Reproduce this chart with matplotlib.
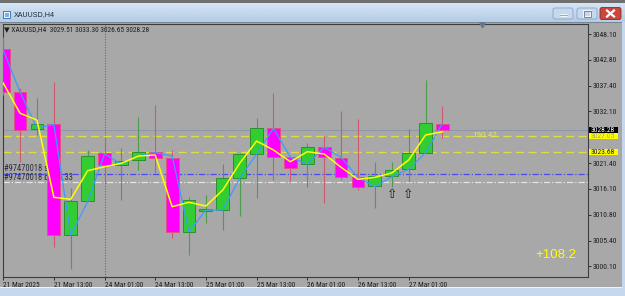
import numpy as np
import matplotlib
matplotlib.use('Agg')
import matplotlib.pyplot as plt
from matplotlib import font_manager
from matplotlib.font_manager import FontProperties
from matplotlib.patches import Rectangle, FancyBboxPatch
from matplotlib.colors import LinearSegmentedColormap
from matplotlib.transforms import blended_transform_factory as blend

W, H = 625, 296   # output size in pixels

# ---- XAUUSD H4 bars ----
opens  = [3045.00, 3036.12, 3028.41, 3029.57, 3006.51, 3013.66, 3023.45, 3021.03, 3022.07,
          3023.66, 3022.54, 3007.13, 3011.63, 3011.84, 3018.29, 3023.31, 3028.74, 3022.62,
          3021.24, 3024.69, 3022.54, 3018.49, 3016.70, 3018.76, 3020.15, 3023.58, 3029.51]
highs  = [3047.48, 3036.94, 3034.88, 3038.12, 3016.28, 3024.13, 3026.55, 3024.55, 3030.89,
          3033.43, 3024.13, 3014.48, 3014.84, 3021.24, 3023.45, 3030.68, 3035.97, 3022.70,
          3025.52, 3027.03, 3032.19, 3030.48, 3021.72, 3021.72, 3028.41, 3038.60, 3033.30]
lows   = [3035.50, 3021.72, 3027.23, 3004.15, 2999.48, 3013.50, 3017.25, 3013.80, 3020.00,
          3019.32, 3005.89, 3002.44, 3009.11, 3007.60, 3010.43, 3014.15, 3017.93, 3017.79,
          3016.43, 3013.12, 3017.93, 3015.87, 3012.21, 3016.55, 3017.58, 3023.45, 3026.65]
closes = [3036.12, 3028.27, 3029.57, 3006.57, 3013.66, 3022.89, 3021.03, 3021.92, 3023.66,
          3022.54, 3007.13, 3013.80, 3011.84, 3018.29, 3023.31, 3028.62, 3022.75, 3020.35,
          3024.69, 3022.62, 3018.49, 3016.43, 3018.76, 3020.00, 3023.58, 3029.65, 3028.28]

# indicator lines
ma_yellow = [3037.98, 3031.72, 3030.33, 3014.36, 3013.95, 3019.86, 3020.68, 3021.39, 3022.89,
             3023.10, 3012.42, 3013.33, 3012.56, 3015.87, 3021.39, 3025.99, 3024.13, 3021.72,
             3023.78, 3023.31, 3020.56, 3018.08, 3018.49, 3019.38, 3022.07, 3027.23, 3027.91]
ma_blue   = [3044.79, 3036.12, 3028.62, 3029.44, 3006.57, 3013.45, 3023.31, 3021.24, 3022.89,
             3023.58, 3022.89, 3007.25, 3011.74, 3011.74, 3018.29, 3023.31, 3028.62, 3022.62,
             3021.24, 3024.69, 3022.62, 3018.49, 3016.55, 3018.62, 3020.15, 3023.58, 3029.65]

time_ticks  = [0, 3, 6, 9, 12, 15, 18, 21, 24]
time_labels = ['21 Mar 2025', '21 Mar 13:00', '24 Mar 01:00', '24 Mar 13:00', '25 Mar 01:00',
               '25 Mar 13:00', '26 Mar 01:00', '26 Mar 13:00', '27 Mar 01:00']
price_ticks = [3048.10, 3042.80, 3037.40, 3032.10, 3021.40, 3016.10, 3010.80, 3005.40, 3000.10]

bid_price  = 3028.28
level_hi   = 3027.05
level_lo   = 3023.68
order_sl   = 3019.17
order_buy  = 3017.46
order_id   = '#97470018'
level_text = '190.42'
profit     = '+108.2'
separator_bar = 6
arrow_bars  = [23, 24]
arrow_price = 3014.9

# ---- fonts: MT4 uses a narrow UI font, pick the narrowest one we have ----
names = {f.name for f in font_manager.fontManager.ttflist}
NARROW = 'Liberation Sans'
for cand in ('Liberation Sans Narrow', 'Roboto Condensed', 'Archivo Narrow'):
    if cand in names:
        NARROW = cand
        break
plt.rcParams['font.family'] = [NARROW, 'DejaVu Sans']

CHART_BG = '#a8a8a8'
fig = plt.figure(figsize=(W / 100, H / 100), dpi=100, facecolor=CHART_BG)
renderer = fig.canvas.get_renderer()


def fit_size(s, family, target_px):
    # font size that makes string s about target_px wide
    t = fig.text(0, 0, s, fontsize=10, family=family)
    w = t.get_window_extent(renderer=renderer).width
    t.remove()
    return 10 * target_px / w


fs_price = fit_size('3048.10', NARROW, 24.5)
fs_time = fit_size('21 Mar 13:00', NARROW, 38)
fs_head = fit_size('XAUUSD,H4', NARROW, 34)
fs_order = fit_size('#97470018 s', NARROW, 44)
fs_level = fit_size('190.42', 'Liberation Sans', 25)
fs_profit = fit_size('+108.2', 'Liberation Sans', 41)
fs_title = fit_size('XAUUSD,H4', 'Liberation Sans', 41)

# ---- window chrome, drawn in pixel coordinates ----
bg = fig.add_axes([0, 0, 1, 1], zorder=-1)
bg.set_facecolor(CHART_BG)
grad = np.linspace(0, 1, 40).reshape(-1, 1)
tcmap = LinearSegmentedColormap.from_list('tb', ['#d6e5f5', '#b4cbe6'])
bg.imshow(grad, cmap=tcmap, aspect='auto', extent=[0, W, 22, 3])
bg.add_patch(Rectangle((0, 0), W, 3, fc='#6f6f6f', ec='none'))
bg.add_patch(Rectangle((0, 21.7), W, 1.4, fc='#7a8592', ec='none'))
bg.add_patch(Rectangle((622, 22), 3, H - 22, fc='#c4d7ec', ec='none'))
bg.add_patch(Rectangle((0, 287), W, 9, fc='#c6d8ed', ec='none'))
bg.add_patch(Rectangle((0, 286.6), 622, 1.2, fc='#eef4fb', ec='none'))
# icon + title
bg.add_patch(Rectangle((2.5, 10.5), 7.5, 7.5, fc='#eef4fb', ec='#3f78b8', lw=0.7))
bg.add_patch(Rectangle((4.5, 13), 4, 3.5, fc='#7fb0e0', ec='none'))
bg.text(14, 14.5, 'XAUUSD,H4', fontsize=fs_title, family='Liberation Sans', color='#1b2838',
        ha='left', va='center')
# buttons
for bx in (553, 577):
    bg.add_patch(FancyBboxPatch((bx, 8), 20, 11, boxstyle='round,pad=0,rounding_size=2',
                                fc='#c6d8ee', ec='#8aa3c2', lw=0.6))
bg.plot([559.5, 566.5], [15.3, 15.3], color='#ffffff', lw=1.8, solid_capstyle='butt')
bg.plot([559.5, 566.5], [15.3, 15.3], color='#53647a', lw=0.4)
bg.add_patch(Rectangle((583.5, 10.5), 7, 6, fc='none', ec='#f4f8fc', lw=1.3))
bg.add_patch(Rectangle((583.5, 10.5), 7, 6, fc='none', ec='#4a5b70', lw=0.5))
bg.add_patch(FancyBboxPatch((600, 7.5), 21, 12, boxstyle='round,pad=0,rounding_size=2',
                            fc='#c9473b', ec='#8a2b22', lw=0.6))
bg.plot([607, 614], [10.5, 16.5], color='white', lw=1.6)
bg.plot([607, 614], [16.5, 10.5], color='white', lw=1.6)
bg.set_xlim(0, W)
bg.set_ylim(H, 0)
bg.axis('off')

# ---- main chart ----
left, right, top, bottom = 3, 587.5, 24, 276.7
ax = fig.add_axes([left / W, 1 - bottom / H, (right - left) / W, (bottom - top) / H])
ax.set_facecolor(CHART_BG)
ax.set_xlim(-0.01, (right - left) / 16.9)
ax.set_ylim(2997.96, 3050.17)

n = len(opens)
x = np.arange(n)
for i in range(n):
    o, h, l, c = opens[i], highs[i], lows[i], closes[i]
    bull = c >= o
    ax.vlines(i, l, h, color='#4f9c4f' if bull else '#cf5a70', lw=0.8, zorder=3)
    ax.bar(i, max(abs(c - o), 0.3), bottom=min(o, c), width=0.76,
           color='#32cd32' if bull else '#ff00ff',
           edgecolor='#2e8f2e' if bull else '#e0508a', lw=0.7, zorder=4)

ax.plot(x, ma_blue, color='#3d9bff', lw=0.9, zorder=5)
ax.plot(x, ma_yellow, color='#ffff00', lw=1.1, zorder=6)

# horizontal objects (behind the bars)
ax.axhline(bid_price, color='#8d99a6', lw=0.8, zorder=1)
for lv in (level_hi, level_lo):
    ax.axhline(lv, color='#dede40', lw=1.0, ls=(0, (5.8, 3.2)), zorder=1.5)
ax.axhline(order_sl, color='#4b4bea', lw=0.9, ls=(0, (5, 1.6, 1, 1.6)), zorder=1.5)
ax.axhline(order_buy, color='#e4e4e4', lw=0.9, ls=(0, (5, 1.6, 1, 1.6)), zorder=1.5)
ax.axvline(separator_bar, color='#686868', lw=0.8, ls=(0, (1, 1.4)), zorder=1)

ty = blend(ax.transAxes, ax.transData)
ax.text(0.002, order_sl + 0.15, order_id + ' sl', transform=ty, fontsize=fs_order,
        color='#2e2e3c', ha='left', va='bottom', zorder=2)
ax.text(0.002, order_buy + 0.15, order_id + ' buy 0.33', transform=ty, fontsize=fs_order,
        color='#2e2e3c', ha='left', va='bottom', zorder=2)
ax.text(0.824, level_hi, level_text, transform=ty, fontsize=fs_level, family='Liberation Sans',
        color='#e8e85a', ha='center', va='center', zorder=2)

for b in arrow_bars:
    ax.text(b, arrow_price, '\u21e7', fontsize=9, family='DejaVu Sans', color='#1a1a1a',
            ha='center', va='center', zorder=7)

ax.text(0.946, 0.084, profit, transform=ax.transAxes, fontsize=fs_profit,
        family='Liberation Sans', color='#ffff00', ha='center', va='center', zorder=7)

header = '\u25bc XAUUSD,H4  {:.2f} {:.2f} {:.2f} {:.2f}'.format(
    opens[-1], highs[-1], lows[-1], closes[-1])
ax.text(0.002, 0.977, header, transform=ax.transAxes, fontsize=fs_head, color='#1e1e1e',
        ha='left', va='center', zorder=8)
ax.plot([0.819], [0.995], marker='v', ms=3.5, color='#66768a', transform=ax.transAxes,
        clip_on=False, zorder=8)

# price axis on the right
ax.yaxis.tick_right()
ax.set_yticks(price_ticks)
ax.set_yticklabels(['{:.2f}'.format(p) for p in price_ticks])
ax.tick_params(axis='y', direction='out', length=2.5, width=0.6, pad=1.0, labelsize=fs_price,
               colors='#1e1e1e')
for val, fc, tc in ((bid_price, '#000000', '#ffffff'), (level_hi, '#ffff00', '#a0a080'),
                    (level_lo, '#ffff00', '#1e1e1e')):
    ax.add_patch(Rectangle((1.002, val - 0.65), 0.0496, 1.3, transform=ty, fc=fc, ec='none',
                           clip_on=False, zorder=9))
    ax.text(1.0045, val, '{:.2f}'.format(val), transform=ty, fontsize=fs_price, color=tc,
            ha='left', va='center', clip_on=False, zorder=10)

# time axis
ax.set_xticks(time_ticks)
ax.set_xticklabels(time_labels, ha='left')
ax.tick_params(axis='x', direction='out', length=2.5, width=0.6, pad=1.0, labelsize=fs_time,
               colors='#1e1e1e')

for sp in ax.spines.values():
    sp.set_color('#3c3c3c')
    sp.set_linewidth(0.8)

fig.savefig('out.png', dpi=100, facecolor=CHART_BG)
